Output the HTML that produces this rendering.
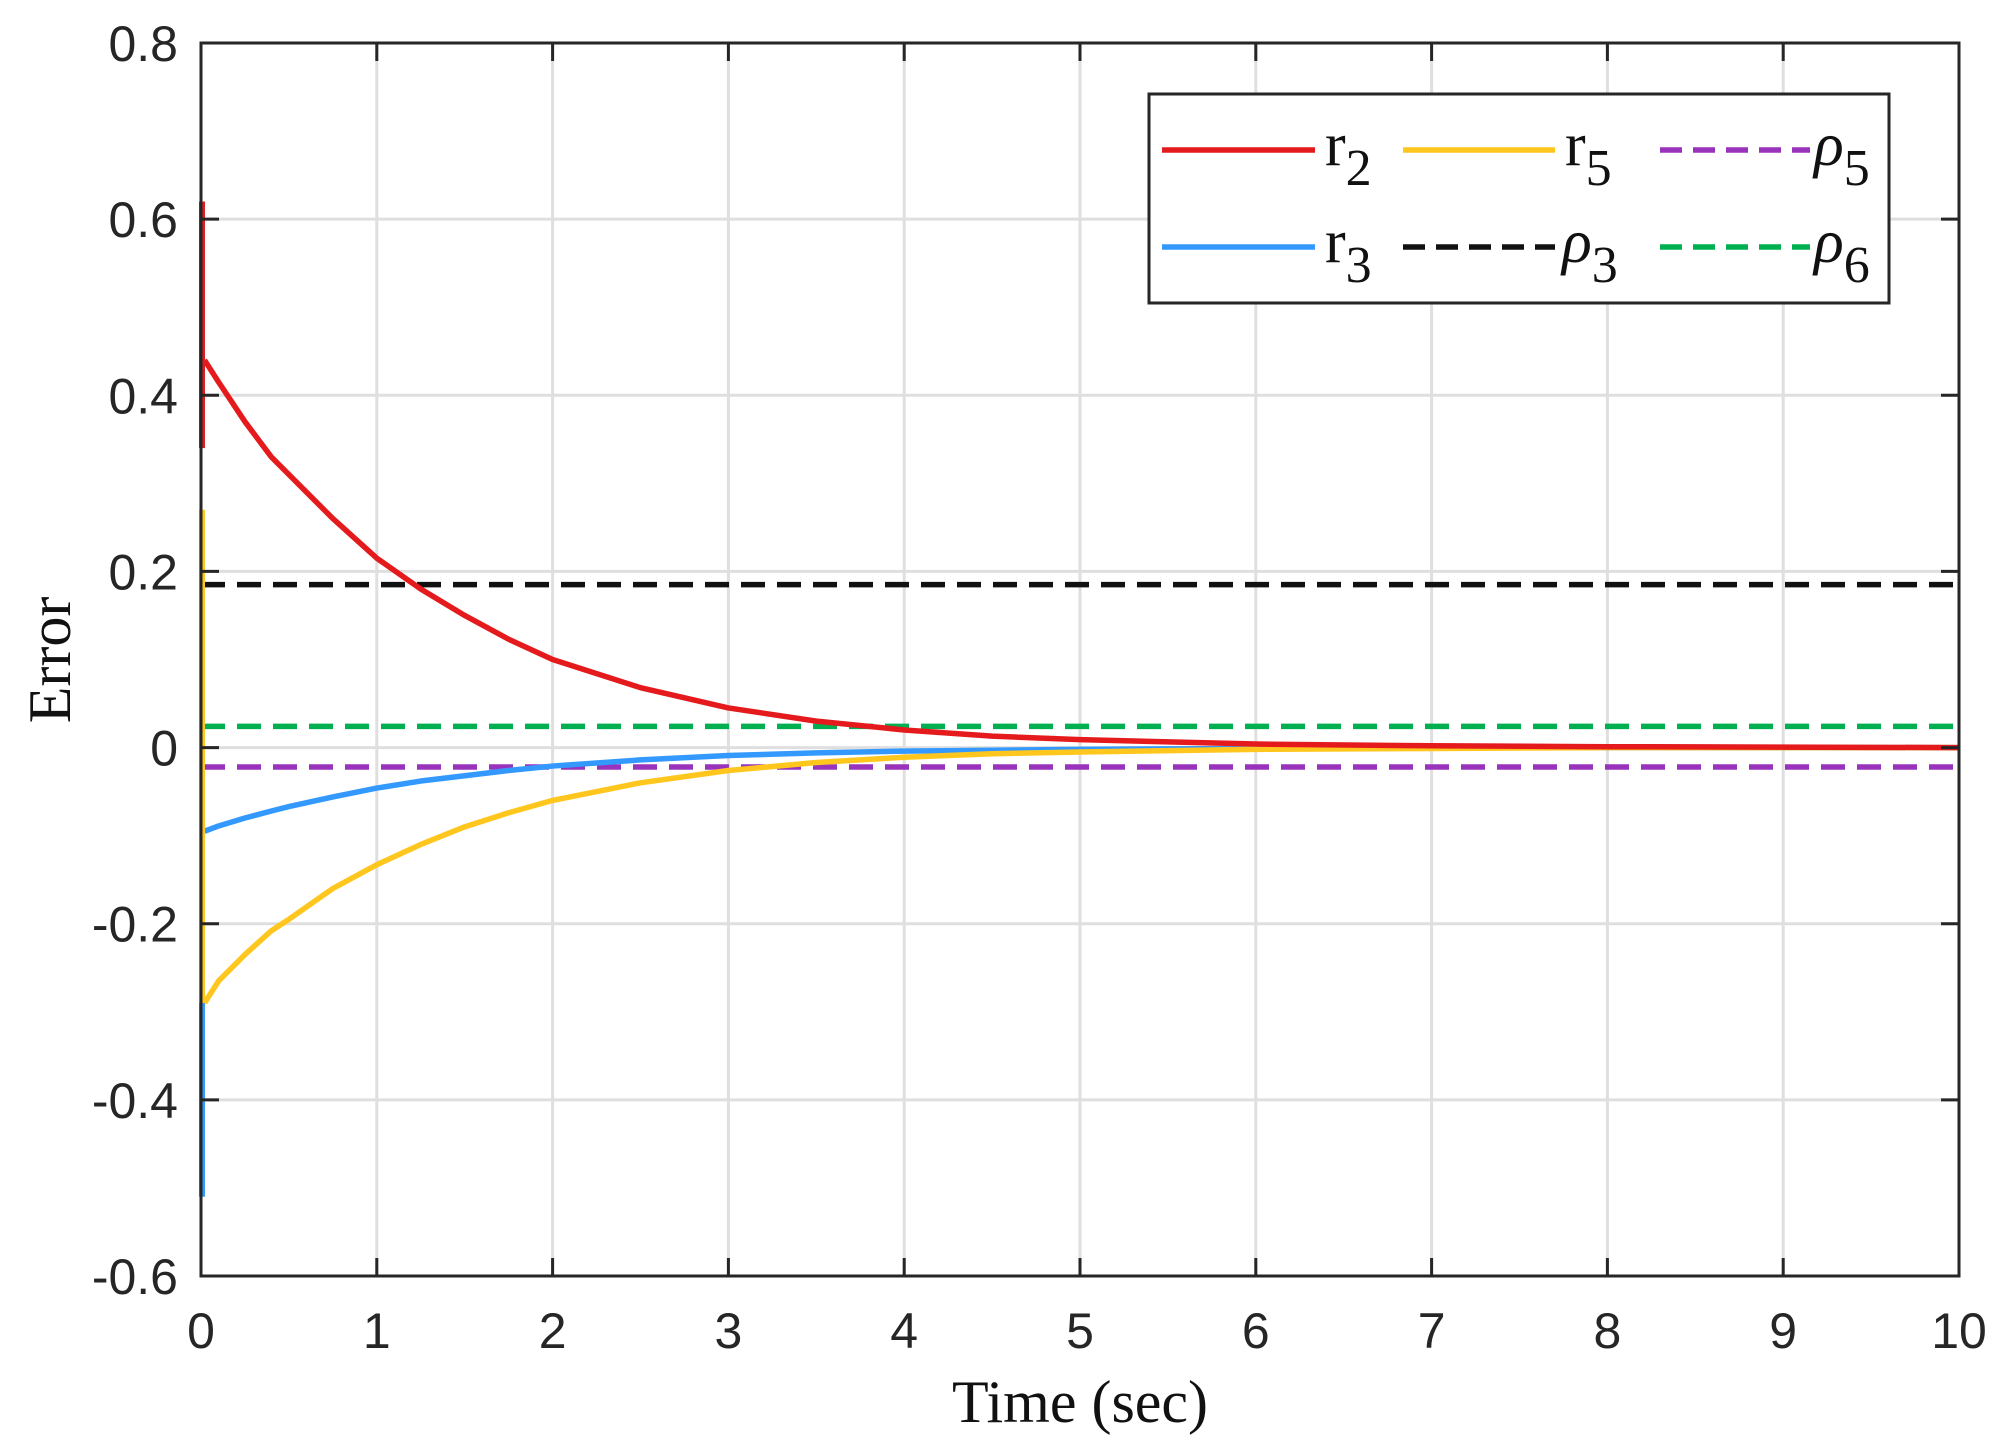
<!DOCTYPE html>
<html><head><meta charset="utf-8"><style>
body{margin:0;background:#fff;}
svg{display:block;}
.tk{font-family:"Liberation Sans",sans-serif;font-size:50px;fill:#262626;}
.sr{font-family:"Liberation Serif",serif;fill:#111;}
</style></head><body>
<svg id="c" width="2001" height="1452" viewBox="0 0 2001 1452"></svg>
<script>
const times=[0.02,0.1,0.25,0.4,0.5,0.75,1,1.25,1.5,1.75,2,2.5,3,3.5,4,4.5,5,6,7,8,10];
const r2=[0.44,0.415,0.37,0.33,0.31,0.26,0.215,0.18,0.15,0.123,0.10,0.068,0.045,0.03,0.02,0.013,0.009,0.004,0.002,0.001,0];
const r3=[-0.095,-0.089,-0.08,-0.072,-0.067,-0.056,-0.046,-0.038,-0.032,-0.026,-0.021,-0.014,-0.009,-0.006,-0.004,-0.003,-0.002,-0.001,0,0,0];
const r5=[-0.29,-0.265,-0.235,-0.208,-0.195,-0.16,-0.133,-0.11,-0.09,-0.074,-0.06,-0.04,-0.026,-0.017,-0.011,-0.007,-0.005,-0.002,-0.001,0,0];
const r2Spike=[0.34,0.62];
const r3Spike=[-0.51,-0.13];
const r5Spike=[-0.29,0.27];
const rho3=0.185, rho6=0.024, rho5=-0.022;
const xTicks=[0,1,2,3,4,5,6,7,8,9,10];
const yTicks=[-0.6,-0.4,-0.2,0,0.2,0.4,0.6,0.8];
const yTickLabels=["-0.6","-0.4","-0.2","0","0.2","0.4","0.6","0.8"];

const L=201,R=1959,T=43,B=1276;
const X=t=>L+(t-0)/(10-0)*(R-L);
const Y=v=>B-(v+0.6)/(1.4)*(B-T);
const svg=document.getElementById('c');
const NS='http://www.w3.org/2000/svg';
function mk(tag,attrs,parent){const e=document.createElementNS(NS,tag);for(const k in attrs)e.setAttribute(k,attrs[k]);(parent||svg).appendChild(e);return e;}

xTicks.forEach(t=>{const g=mk('line',{x1:X(t),x2:X(t),y1:T,y2:B,stroke:'#dfdfdf','stroke-width':3});

});
yTicks.forEach(v=>{const g=mk('line',{x1:L,x2:R,y1:Y(v),y2:Y(v),stroke:'#dfdfdf','stroke-width':3});

});

function hline(v,color,name){const e=mk('line',{x1:L,x2:R,y1:Y(v),y2:Y(v),stroke:color,'stroke-width':5.5,'stroke-dasharray':'24 12'});

}
hline(rho3,'#111','rho3-line');
hline(rho6,'#00b050','rho6-line');
hline(rho5,'#9933bb','rho5-line');

function series(vals,spike,color,name){
  const pts=times.map((t,i)=>X(t)+','+Y(vals[i])).join(' ');
  const p=mk('polyline',{points:pts,fill:'none',stroke:color,'stroke-width':5.5,'stroke-linejoin':'round'});
  
  
  const s=mk('line',{x1:X(0)+1,x2:X(0)+1,y1:Y(spike[0]),y2:Y(spike[1]),stroke:color,'stroke-width':6});
  
  
}
series(r3,r3Spike,'#3399ff','r3-line');
series(r5,r5Spike,'#ffc61e','r5-line');
series(r2,r2Spike,'#e41a1c','r2-line');

const box=mk('rect',{x:L,y:T,width:R-L,height:B-T,fill:'none',stroke:'#262626','stroke-width':3});


xTicks.forEach(t=>{
  mk('line',{x1:X(t),x2:X(t),y1:B,y2:B-18,stroke:'#262626','stroke-width':3});
  mk('line',{x1:X(t),x2:X(t),y1:T,y2:T+18,stroke:'#262626','stroke-width':3});
  const tx=mk('text',{x:X(t),y:B+72,'text-anchor':'middle',class:'tk'});tx.textContent=String(t);
  
  
});
yTicks.forEach((v,i)=>{
  mk('line',{x1:L,x2:L+18,y1:Y(v),y2:Y(v),stroke:'#262626','stroke-width':3});
  mk('line',{x1:R,x2:R-18,y1:Y(v),y2:Y(v),stroke:'#262626','stroke-width':3});
  const tx=mk('text',{x:178,y:Y(v)+18,'text-anchor':'end',class:'tk'});tx.textContent=yTickLabels[i];
  
  
});
</script>
<svg style="position:absolute;left:0;top:0" width="2001" height="1452">
<text x="1080" y="1422" text-anchor="middle" class="sr" font-size="60">Time (sec)</text>
<text transform="translate(70,660) rotate(-90)" text-anchor="middle" class="sr" font-size="60">Error</text>
<g>
<rect x="1149" y="94" width="740" height="209" fill="#fff" stroke="#262626" stroke-width="3"/>
<line x1="1162" x2="1315" y1="150" y2="150" stroke="#e41a1c" stroke-width="5.5"/>
<text x="1325" y="165" class="sr" font-size="62">r<tspan dy="20" font-size="52">2</tspan></text>
<line x1="1403" x2="1555" y1="150" y2="150" stroke="#ffc61e" stroke-width="5.5"/>
<text x="1565" y="165" class="sr" font-size="62">r<tspan dy="20" font-size="52">5</tspan></text>
<line x1="1660" x2="1810" y1="150" y2="150" stroke="#9933bb" stroke-width="5.5" stroke-dasharray="22 11"/>
<text x="1814" y="165" class="sr" font-size="62" font-style="italic">ρ<tspan dy="20" font-size="52" font-style="normal">5</tspan></text>
<line x1="1162" x2="1315" y1="247" y2="247" stroke="#3399ff" stroke-width="5.5"/>
<text x="1325" y="262" class="sr" font-size="62">r<tspan dy="20" font-size="52">3</tspan></text>
<line x1="1403" x2="1555" y1="247" y2="247" stroke="#111" stroke-width="5.5" stroke-dasharray="22 11"/>
<text x="1562" y="262" class="sr" font-size="62" font-style="italic">ρ<tspan dy="20" font-size="52" font-style="normal">3</tspan></text>
<line x1="1660" x2="1810" y1="247" y2="247" stroke="#00b050" stroke-width="5.5" stroke-dasharray="22 11"/>
<text x="1814" y="262" class="sr" font-size="62" font-style="italic">ρ<tspan dy="20" font-size="52" font-style="normal">6</tspan></text>
</g>
</svg>
</body></html>
